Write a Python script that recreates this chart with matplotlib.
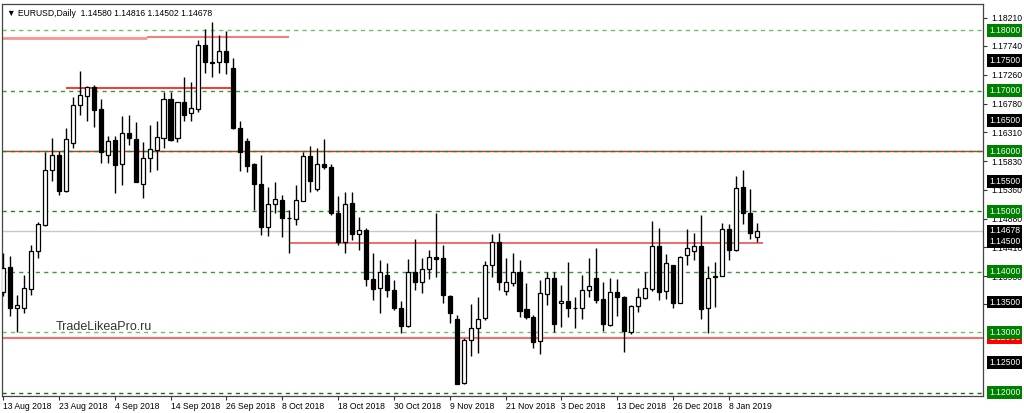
import matplotlib
matplotlib.use("Agg")
import matplotlib.pyplot as plt
import matplotlib.transforms as mtransforms

plt.rcParams['font.family'] = ['Liberation Sans', 'DejaVu Sans']

# daily EURUSD bars, 13 Aug 2018 .. 14 Jan 2019
opens = [1.1367, 1.1408, 1.1340, 1.1341, 1.1372, 1.1435, 1.1478, 1.1568, 1.1594, 1.1534,
         1.1613, 1.1676, 1.1692, 1.1706, 1.1669, 1.1594, 1.1618, 1.1578, 1.1630, 1.1620,
         1.1546, 1.1589, 1.1602, 1.1622, 1.1687, 1.1621, 1.1681, 1.1663, 1.1669, 1.1776,
         1.1747, 1.1747, 1.1766, 1.1737, 1.1638, 1.1616, 1.1579, 1.1545, 1.1474, 1.1512,
         1.1519, 1.1490, 1.1488, 1.1518, 1.1592, 1.1537, 1.1579, 1.1573, 1.1498, 1.1450,
         1.1514, 1.1463, 1.1469, 1.1388, 1.1373, 1.1395, 1.1370, 1.1341, 1.1310, 1.1400,
         1.1384, 1.1404, 1.1424, 1.1423, 1.1360, 1.1322, 1.1216, 1.1287, 1.1307, 1.1323,
         1.1411, 1.1450, 1.1368, 1.1381, 1.1399, 1.1338, 1.1325, 1.1285, 1.1364, 1.1390,
         1.1348, 1.1352, 1.1341, 1.1341, 1.1370, 1.1390, 1.1355, 1.1312, 1.1366, 1.1358,
         1.1300, 1.1344, 1.1357, 1.1372, 1.1443, 1.1368, 1.1411, 1.1349, 1.1428, 1.1435,
         1.1443, 1.1340, 1.1391, 1.1394, 1.1471, 1.1437, 1.1541, 1.1498, 1.14580]
highs = [1.1431, 1.1426, 1.1362, 1.1395, 1.1445, 1.1483, 1.1599, 1.1621, 1.1600, 1.1638,
         1.1689, 1.1733, 1.1708, 1.1709, 1.1687, 1.1625, 1.1625, 1.1658, 1.1659, 1.1648,
         1.1615, 1.1643, 1.1649, 1.1698, 1.1697, 1.1682, 1.1722, 1.1714, 1.1784, 1.1802,
         1.1814, 1.1792, 1.1798, 1.1754, 1.1650, 1.1622, 1.1580, 1.1593, 1.1541, 1.1549,
         1.1528, 1.1503, 1.1544, 1.1599, 1.1608, 1.1605, 1.1620, 1.1578, 1.1525, 1.1533,
         1.1533, 1.1491, 1.1473, 1.1431, 1.1420, 1.1414, 1.1387, 1.1351, 1.1422, 1.1454,
         1.1423, 1.1436, 1.1497, 1.1445, 1.1361, 1.1329, 1.1290, 1.1346, 1.1359, 1.1418,
         1.1463, 1.1464, 1.1423, 1.1432, 1.1420, 1.1381, 1.1328, 1.1387, 1.1399, 1.1399,
         1.1378, 1.1417, 1.1358, 1.1395, 1.1423, 1.1440, 1.1384, 1.1390, 1.1389, 1.1360,
         1.1345, 1.1373, 1.1400, 1.1484, 1.1472, 1.1429, 1.1412, 1.1426, 1.1471, 1.1464,
         1.1494, 1.1409, 1.1417, 1.1481, 1.1480, 1.1558, 1.1569, 1.1538, 1.14816]
lows = [1.1360, 1.1327, 1.1300, 1.1332, 1.1362, 1.1423, 1.1476, 1.1551, 1.1527, 1.1533,
        1.1605, 1.1660, 1.1649, 1.1640, 1.1581, 1.1581, 1.1530, 1.1544, 1.1610, 1.1548,
        1.1523, 1.1566, 1.1568, 1.1605, 1.1617, 1.1615, 1.1650, 1.1649, 1.1665, 1.1730,
        1.1722, 1.1730, 1.1727, 1.1636, 1.1567, 1.1566, 1.1503, 1.1461, 1.1459, 1.1497,
        1.1457, 1.1431, 1.1478, 1.1517, 1.1533, 1.1534, 1.1570, 1.1494, 1.1445, 1.1431,
        1.1453, 1.1436, 1.1377, 1.1354, 1.1332, 1.1358, 1.1337, 1.1298, 1.1308, 1.1370,
        1.1365, 1.1389, 1.1391, 1.1348, 1.1315, 1.1214, 1.1215, 1.1260, 1.1266, 1.1321,
        1.1391, 1.1370, 1.1362, 1.1377, 1.1326, 1.1322, 1.1274, 1.1264, 1.1345, 1.1301,
        1.1309, 1.1326, 1.1307, 1.1322, 1.1359, 1.1348, 1.1302, 1.1311, 1.1327, 1.1268,
        1.1297, 1.1333, 1.1355, 1.1369, 1.1353, 1.1355, 1.1340, 1.1348, 1.1411, 1.1419,
        1.1322, 1.1299, 1.1342, 1.1393, 1.1420, 1.1435, 1.1480, 1.1454, 1.14502]
closes = [1.1406, 1.1341, 1.1345, 1.1373, 1.1435, 1.1479, 1.1568, 1.1594, 1.1534, 1.1620,
          1.1676, 1.1693, 1.1706, 1.1668, 1.1599, 1.1617, 1.1577, 1.1630, 1.1622, 1.1549,
          1.1589, 1.1603, 1.1624, 1.1687, 1.1618, 1.1681, 1.1659, 1.1671, 1.1776, 1.1747,
          1.1745, 1.1766, 1.1747, 1.1638, 1.1599, 1.1576, 1.1545, 1.1474, 1.1512, 1.1520,
          1.1489, 1.1489, 1.1519, 1.1592, 1.1551, 1.1579, 1.1573, 1.1498, 1.1450, 1.1512,
          1.1463, 1.1469, 1.1388, 1.1372, 1.1399, 1.1370, 1.1340, 1.1310, 1.1400, 1.1383,
          1.1404, 1.1424, 1.1422, 1.1362, 1.1332, 1.1214, 1.1287, 1.1307, 1.1322, 1.1411,
          1.1449, 1.1384, 1.1383, 1.1399, 1.1335, 1.1325, 1.1284, 1.1365, 1.1390, 1.1314,
          1.1352, 1.1340, 1.1340, 1.1370, 1.1377, 1.1354, 1.1313, 1.1366, 1.1359, 1.1302,
          1.1344, 1.1358, 1.1373, 1.1443, 1.1367, 1.1414, 1.1349, 1.1425, 1.1440, 1.1443,
          1.1339, 1.1390, 1.1394, 1.1471, 1.1437, 1.1539, 1.1497, 1.1465, 1.14678]

date_labels = ['13 Aug 2018', '23 Aug 2018', '4 Sep 2018', '14 Sep 2018', '26 Sep 2018',
               '8 Oct 2018', '18 Oct 2018', '30 Oct 2018', '9 Nov 2018', '21 Nov 2018',
               '3 Dec 2018', '13 Dec 2018', '26 Dec 2018', '8 Jan 2019']
date_bars = [0, 8, 16, 24, 32, 40, 48, 56, 64, 72, 80, 88, 96, 104]

grid_levels = [1.18, 1.17, 1.16, 1.15, 1.14, 1.13, 1.12]
half_levels = [1.175, 1.165, 1.155, 1.145, 1.135, 1.125]
scale_labels = [1.18210, 1.17740, 1.17260, 1.16780, 1.16310, 1.15830, 1.15360,
                1.14880, 1.14410, 1.13930, 1.13460]
bid = 1.14678
support_lvl = 1.12906

fig = plt.figure(figsize=(10.24, 4.13), dpi=100)
ax = fig.add_axes([2 / 1024, 17 / 413, 981 / 1024, 392 / 413])
ax.set_xlim(-0.14, 140.4)
ax.set_ylim(1.11945, 1.18435)

# levels
gcol = {1.18: '#6cc06c', 1.17: '#3a9a3a', 1.16: '#1a8a1a', 1.15: '#1a8a1a',
        1.14: '#3a9a3a', 1.13: '#6cc06c', 1.12: '#1a6a1a'}
ax.axhline(1.16, color='#ff2020', lw=1, zorder=1)
for lv in grid_levels:
    ax.axhline(lv, color=gcol[lv], lw=1, ls=(0, (3, 3)), zorder=1.1)
ax.axhline(bid, color='#c8c8c8', lw=1, zorder=1)
ax.axhline(support_lvl, color='#f07070', lw=1.5, zorder=1)
ax.hlines(1.17877, -0.14, 20.7, color='#f59595', lw=2, zorder=1)
ax.hlines(1.17894, 20.7, 41.0, color='#f08080', lw=1.5, zorder=1)
ax.hlines(1.17040, 9.0, 33.0, color='#ff1010', lw=1.2, zorder=1)
ax.hlines(1.14484, 41.0, 108.9, color='#f06060', lw=1.3, zorder=1)

# candles
for i in range(len(opens)):
    o, h, l, c = opens[i], highs[i], lows[i], closes[i]
    ax.vlines(i, l, h, color='black', lw=1, zorder=3)
    bot = min(o, c)
    hgt = max(abs(c - o), 0.00003)
    fc = 'white' if c >= o else 'black'
    ax.bar(i, hgt, bottom=bot, width=0.58, color=fc, edgecolor='black',
           linewidth=0.9, zorder=4)

# time axis
ax.set_xticks(date_bars)
ax.set_xticklabels(date_labels, ha='left', fontsize=6.2)
ax.tick_params(axis='x', length=3, pad=1.5, color='#333333')

# price axis
ax.yaxis.tick_right()
ax.set_yticks(scale_labels)
ax.set_yticklabels(['%.5f' % v for v in scale_labels], fontsize=6.2)
ax.tick_params(axis='y', length=3, pad=3, color='#333333')

for sp in ax.spines.values():
    sp.set_color('#444444')
    sp.set_linewidth(0.9)

tr = mtransforms.blended_transform_factory(ax.transAxes, ax.transData)
xlab = 1.0 + 6 / 981


def price_box(v, fc, tc):
    ax.text(xlab, v, '%.5f' % v, transform=tr, fontsize=6.2, color=tc, va='center',
            ha='left', clip_on=False, zorder=20,
            bbox=dict(boxstyle='square,pad=0.22', fc=fc, ec='none'))


price_box(support_lvl, '#ff0000', '#ffffff')
for lv in half_levels:
    price_box(lv, '#000000', '#ffffff')
price_box(bid, '#000000', '#ffffff')
price_box(1.145, '#000000', '#ffffff')
for lv in grid_levels:
    price_box(lv, '#008000', '#e8ffe8')

ax.text(5 / 981, 0.988, '\u25bc EURUSD,Daily  %.5f %.5f %.5f %.5f' % (
    opens[-1], highs[-1], lows[-1], closes[-1]),
    transform=ax.transAxes, fontsize=6.2, va='top', ha='left', color='black')
ax.text(7.5, 1.1308, 'TradeLikeaPro.ru', fontsize=9, color='#333333',
        va='center', ha='left', zorder=5)

fig.savefig('out.png', dpi=100)
